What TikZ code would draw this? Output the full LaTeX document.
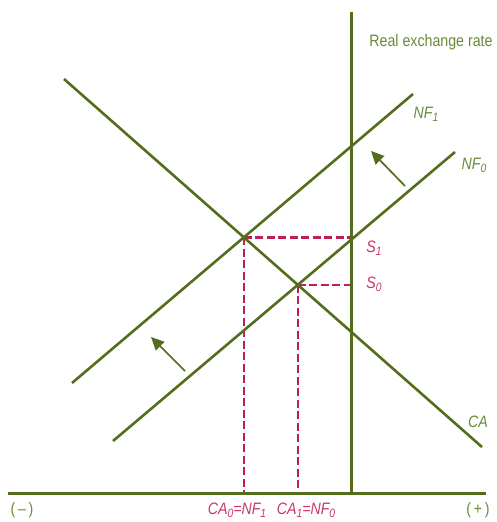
\documentclass[tikz,border=0pt]{standalone}
\usepackage{fontspec}
\setmainfont{Liberation Sans}[FakeStretch=0.86]
\usetikzlibrary{intersections,arrows.meta}
\definecolor{grn}{RGB}{82,110,28}
\definecolor{lgrn}{RGB}{105,138,55}
\definecolor{mag}{RGB}{192,30,90}
\definecolor{pnk}{RGB}{200,55,108}
\newcommand{\sbs}[1]{\raisebox{-0.35ex}{\fontsize{12}{13}\selectfont #1}}
\begin{document}
\begin{tikzpicture}[x=1pt,y=-1pt,
  curve/.style={grn,line width=2.6pt},
  axisline/.style={grn,line width=3pt},
  guide/.style={mag,line width=2.3pt,dash pattern=on 8pt off 3.5pt},
  glabel/.style={lgrn,inner sep=0pt,font=\fontsize{16.5}{18}\selectfont\itshape},
  plabel/.style={pnk,inner sep=0pt,font=\fontsize{16.5}{18}\selectfont\itshape},
  tlabel/.style={lgrn,inner sep=0pt,font=\fontsize{16.5}{18}\selectfont},
  shiftarrow/.style={grn,line width=1.7pt,-{Triangle[length=13pt,width=12pt]}}]
\useasboundingbox (0,0) rectangle (496,522);
% geometry
\coordinate (xl) at (8,493);
\coordinate (xr) at (486,493);
\coordinate (yb) at (351,493);
\coordinate (yt) at (351,12);
\coordinate (ca1) at (64,79);
\coordinate (ca2) at (482,447);
\coordinate (nfa1) at (72,383);
\coordinate (nfa2) at (413,94);
\coordinate (nfb1) at (113,441);
\coordinate (nfb2) at (455,152);
\path[name path=CA] (ca1) -- (ca2);
\path[name path=NFa] (nfa1) -- (nfa2);
\path[name path=NFb] (nfb1) -- (nfb2);
\path[name intersections={of=CA and NFa, by=e1}];
\path[name intersections={of=CA and NFb, by=e0}];
% dashed guides
\draw[guide] (e1) -- (e1 -| yt);
\draw[guide] (e0) -- (e0 -| yt);
\draw[guide] (e1) -- (e1 |- xl);
\draw[guide] (e0) -- (e0 |- xl);
% curves
\draw[curve] (ca1) -- (ca2);
\draw[curve] (nfa1) -- (nfa2);
\draw[curve] (nfb1) -- (nfb2);
% axes
\draw[axisline] (xl) -- (xr);
\draw[axisline] (yb) -- (yt);
% shift arrows
\coordinate (a1t) at (405,186);
\coordinate (a1h) at (371,151);
\coordinate (a2t) at (185,371);
\coordinate (a2h) at (151,337);
\draw[shiftarrow] (a1t) -- (a1h);
\draw[shiftarrow] (a2t) -- (a2h);
% labels
\node[tlabel] (ylab) at (431,42) {Real exchange rate};
\node[glabel] (nf1lab) at (426,114) {NF\sbs{1}};
\node[glabel] (nf0lab) at (474,165) {NF\sbs{0}};
\node[glabel] (calab) at (478,422) {CA};
\node[plabel] (s1lab) at (374,248) {S\sbs{1}};
\node[plabel] (s0lab) at (374,284) {S\sbs{0}};
\node[plabel] (x1lab) at (237,510) {CA\sbs{0}=NF\sbs{1}};
\node[plabel] (x0lab) at (306,510) {CA\sbs{1}=NF\sbs{0}};
\node[tlabel] (minus) at (22,510) {(\,\textendash\,)};
\node[tlabel] (plus) at (478,510) {(\,+\,)};
\end{tikzpicture}
\end{document}
